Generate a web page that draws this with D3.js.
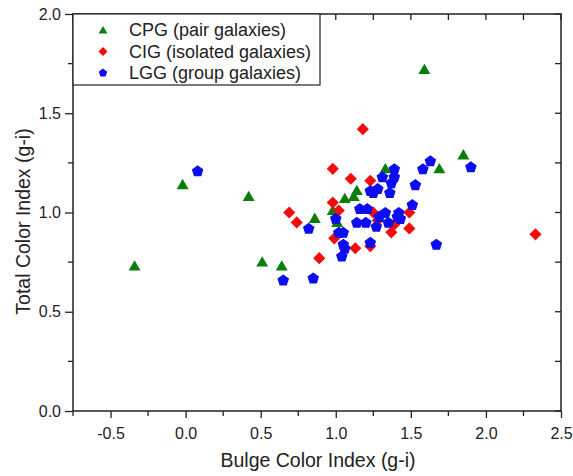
<!DOCTYPE html>
<html><head><meta charset="utf-8">
<script src="https://cdn.jsdelivr.net/npm/d3@7/dist/d3.min.js"></script>
<style>body{margin:0;background:#fff}svg{display:block;font-family:"Liberation Sans",Arial,sans-serif}</style>
</head><body><div id="chart"></div>
<script>
const seriesNames = ["CPG (pair galaxies)", "CIG (isolated galaxies)", "LGG (group galaxies)"];
const cpgX = [-0.34,-0.02,0.42,0.51,0.64,0.86,0.98,1.01,1.06,1.12,1.14,1.33,1.59,1.69,1.85];
const cpgY = [0.73,1.14,1.08,0.75,0.73,0.97,1.01,0.95,1.07,1.08,1.11,1.22,1.72,1.22,1.29];
const cigX = [0.69,0.74,0.89,1.18,0.98,1.10,1.23,0.98,1.02,0.99,1.13,1.23,1.25,1.28,1.37,1.39,1.49,1.49,2.33];
const cigY = [1.00,0.95,0.77,1.42,1.22,1.17,1.16,1.05,1.01,0.87,0.82,0.83,1.00,0.96,0.90,0.94,1.00,0.92,0.89];
const lggX = [0.08,0.82,0.65,0.85,1.00,1.02,1.05,1.05,1.06,1.04,1.16,1.21,1.14,1.20,1.27,1.23,1.29,1.33,1.35,1.42,1.41,1.43,1.51,1.23,1.25,1.28,1.36,1.37,1.31,1.39,1.39,1.53,1.58,1.63,1.90,1.67];
const lggY = [1.21,0.92,0.66,0.67,0.97,0.90,0.90,0.84,0.82,0.78,1.02,1.02,0.95,0.95,0.93,0.85,0.98,1.00,0.95,1.00,0.98,0.97,1.04,1.11,1.10,1.12,1.10,1.15,1.18,1.22,1.18,1.14,1.22,1.26,1.23,0.84];
const xTicks = [-0.5,0.0,0.5,1.0,1.5,2.0,2.5];
const yTicks = [0.0,0.5,1.0,1.5,2.0];
const colors = ["#0a7d0a","#f20d0d","#0d0df2"];

const W = 573, H = 476;
const svg = d3.select("#chart").append("svg").attr("width", W).attr("height", H);
const x = d3.scaleLinear().domain([-0.75, 2.5]).range([73, 561]);
const y = d3.scaleLinear().domain([0, 2.0]).range([411, 14]);
const minor = d3.range(-0.75, 2.5001, 0.25);
const yMinor = d3.range(0, 2.0001, 0.25);
const fmt = d => d.toFixed(1);

const axisCol = "#222";
const g = svg.append("g");
g.selectAll("line.tt").data(minor).join("line")
  .attr("x1", d => x(d)).attr("x2", d => x(d)).attr("y1", 14).attr("y2", 20)
  .attr("stroke", axisCol).attr("stroke-width", 1.3);
g.selectAll("line.rt").data(yMinor).join("line")
  .attr("x1", 561).attr("x2", 555).attr("y1", d => y(d)).attr("y2", d => y(d))
  .attr("stroke", axisCol).attr("stroke-width", 1.3);

// bottom axis
const xAxis = d3.axisBottom(x).tickValues(xTicks).tickFormat(fmt).tickSize(7).tickPadding(10);
const gx = svg.append("g").attr("transform", "translate(0,411)").call(xAxis);
gx.select(".domain").remove();
gx.selectAll("line").attr("stroke", axisCol).attr("stroke-width", 1.3);
gx.selectAll("text").attr("font-size", 16).attr("fill", "#222").attr("font-family", "Liberation Sans, Arial, sans-serif");
svg.append("g").selectAll("line").data(minor.filter(d => !xTicks.some(t => Math.abs(t - d) < 1e-6))).join("line")
  .attr("x1", d => x(d)).attr("x2", d => x(d)).attr("y1", 411).attr("y2", 416)
  .attr("stroke", axisCol).attr("stroke-width", 1.3);

// left axis
const yAxis = d3.axisLeft(y).tickValues(yTicks).tickFormat(fmt).tickSize(8).tickPadding(4);
const gy = svg.append("g").attr("transform", "translate(73,0)").call(yAxis);
gy.select(".domain").remove();
gy.selectAll("line").attr("stroke", axisCol).attr("stroke-width", 1.3);
gy.selectAll("text").attr("font-size", 16).attr("fill", "#222").attr("font-family", "Liberation Sans, Arial, sans-serif");
svg.append("g").selectAll("line").data(yMinor.filter(d => !yTicks.some(t => Math.abs(t - d) < 1e-6))).join("line")
  .attr("x1", 73).attr("x2", 68).attr("y1", d => y(d)).attr("y2", d => y(d))
  .attr("stroke", axisCol).attr("stroke-width", 1.3);

// frame
svg.append("rect").attr("x", 73).attr("y", 14).attr("width", 488).attr("height", 397)
  .attr("fill", "none").attr("stroke", axisCol).attr("stroke-width", 1.5);

// markers
function pentagon(r) {
  const pts = d3.range(5).map(i => {
    const a = -Math.PI / 2 + i * 2 * Math.PI / 5;
    return [r * Math.cos(a), r * Math.sin(a)];
  });
  return "M" + pts.map(p => p.join(",")).join("L") + "Z";
}
const tri = d3.symbol().type(d3.symbolTriangle).size(62)();
const dia = d3.symbol().type(d3.symbolSquare).size(74)();
const pent = pentagon(6.1);
const shapes = [
  { path: tri, rot: 0, dy: 1 },
  { path: dia, rot: 45, dy: 0 },
  { path: pent, rot: 0, dy: 0.5 }
];
const data = [
  cpgX.map((v, i) => [v, cpgY[i]]),
  cigX.map((v, i) => [v, cigY[i]]),
  lggX.map((v, i) => [v, lggY[i]])
];
const plot = svg.append("g");
data.forEach((pts, s) => {
  plot.append("g").selectAll("path").data(pts).join("path")
    .attr("d", shapes[s].path)
    .attr("transform", d => `translate(${x(d[0])},${y(d[1]) + shapes[s].dy}) rotate(${shapes[s].rot})`)
    .attr("fill", colors[s]);
});

// legend
const lg = svg.append("g");
lg.append("rect").attr("x", 73).attr("y", 14).attr("width", 247).attr("height", 71)
  .attr("fill", "#fff").attr("stroke", axisCol).attr("stroke-width", 1.2);
const legendShapes = [
  d3.symbol().type(d3.symbolTriangle).size(34)(),
  d3.symbol().type(d3.symbolSquare).size(40)(),
  pentagon(4.4)
];
seriesNames.forEach((n, i) => {
  const cy = 30 + i * 21.5;
  lg.append("path").attr("d", legendShapes[i])
    .attr("transform", `translate(103,${cy + (i === 0 ? 1 : 0)}) rotate(${i === 1 ? 45 : 0})`)
    .attr("fill", colors[i]);
  lg.append("text").attr("x", 129).attr("y", cy).attr("dy", "0.35em")
    .attr("font-size", 18).attr("fill", "#222").text(n);
});

// titles
svg.append("text").attr("x", 318).attr("y", 467).attr("text-anchor", "middle")
  .attr("font-size", 19.5).attr("fill", "#222").text("Bulge Color Index (g-i)");
svg.append("text").attr("transform", "translate(29.5,221.5) rotate(-90)").attr("text-anchor", "middle")
  .attr("font-size", 19.5).attr("fill", "#222").text("Total Color Index (g-i)");
</script></body></html>
